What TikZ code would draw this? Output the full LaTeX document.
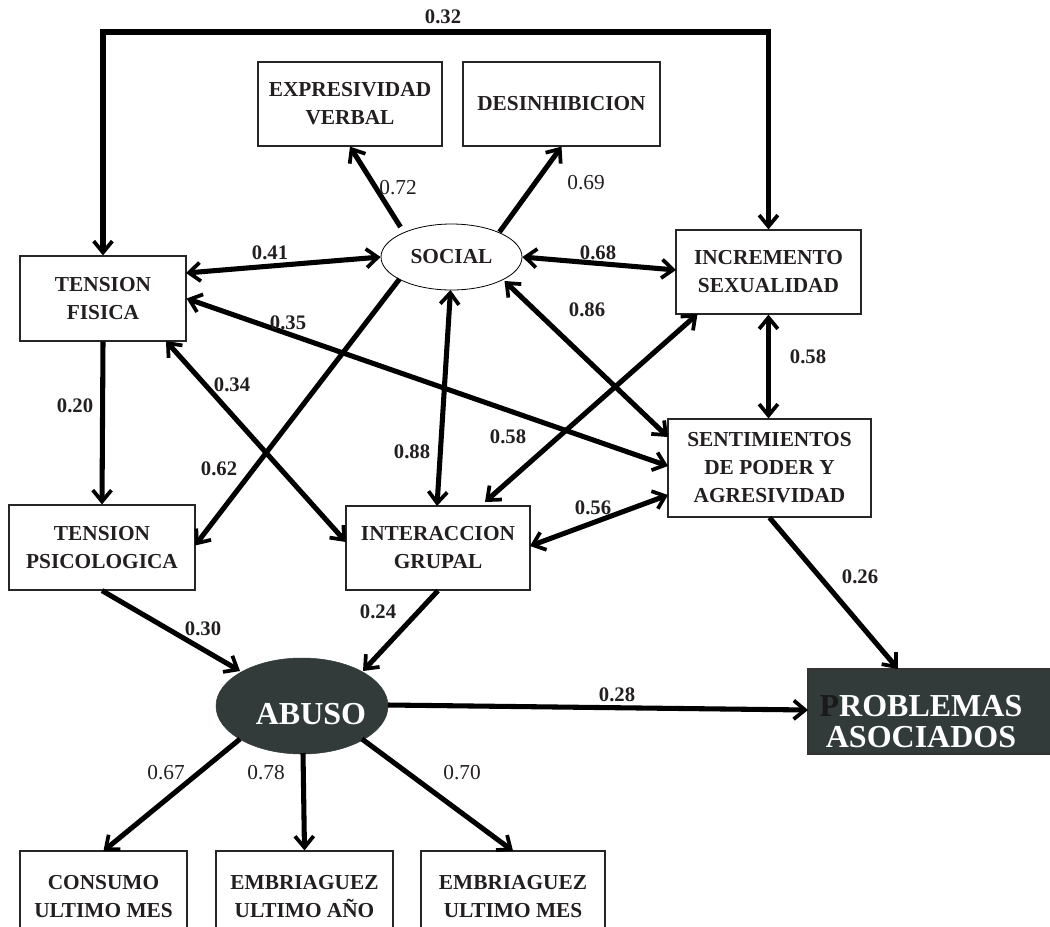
\documentclass[tikz,border=0pt]{standalone}
\usepackage{fontspec}
\setmainfont{Liberation Serif}
\usetikzlibrary{arrows.meta,calc,shapes.geometric}
\definecolor{txt}{HTML}{231F20}
\definecolor{darkfill}{RGB}{50,58,58}
\definecolor{pdark}{HTML}{1A1A1A}
\begin{document}
\begin{tikzpicture}[x=0.75pt,y=-0.75pt,
  boxn/.style={draw=black!85,line width=0.9pt,fill=white,align=center,text=txt,
    font=\bfseries\fontsize{16}{21}\selectfont,inner sep=0pt},
  barb/.tip={Straight Barb[length=8.5pt,width=14pt,line width=2.8pt]},
  oneway/.style={line width=3.8pt,-barb},
  twoway/.style={line width=3.8pt,barb-barb},
  lab/.style={text=txt,font=\bfseries\fontsize{15.5}{18}\selectfont,inner sep=0pt},
  labr/.style={text=txt,font=\fontsize{16}{18}\selectfont,inner sep=0pt}]
\path[use as bounding box] (0,0) rectangle (1050,926);
\clip (0,0) rectangle (1050,926);

% boxes
\node[boxn,minimum width=138pt,minimum height=63pt] (exv) at (350,104) {EXPRESIVIDAD\\VERBAL};
\node[boxn,minimum width=147.75pt,minimum height=63pt] (des) at (561.5,104) {DESINHIBICION};
\node[boxn,minimum width=124.5pt,minimum height=63.75pt] (tf) at (103,298.5) {TENSION\\FISICA};
\node[boxn,minimum width=138.75pt,minimum height=63pt] (inc) at (768.5,272) {INCREMENTO\\SEXUALIDAD};
\node[boxn,minimum width=152.25pt,minimum height=73.5pt] (sen) at (769.5,468) {SENTIMIENTOS\\DE PODER Y\\AGRESIVIDAD};
\node[boxn,minimum width=139.5pt,minimum height=63.75pt] (tp) at (102,547.5) {TENSION\\PSICOLOGICA};
\node[boxn,minimum width=138pt,minimum height=63pt] (ig) at (438,548) {INTERACCION\\GRUPAL};
\node[boxn,minimum width=125.25pt,minimum height=69pt] (con) at (103.5,897) {CONSUMO\\ULTIMO MES};
\node[boxn,minimum width=132.75pt,minimum height=69pt] (ea) at (304.5,897) {EMBRIAGUEZ\\ULTIMO AÑO};
\node[boxn,minimum width=138pt,minimum height=69pt] (em) at (513,897) {EMBRIAGUEZ\\ULTIMO MES};

% latent variables
\node[ellipse,draw=black,line width=0.6pt,fill=white,inner sep=0pt,
  minimum width=105.75pt,minimum height=49.5pt,text=txt,
  font=\bfseries\fontsize{16}{18}\selectfont] (soc) at (451.5,257) {SOCIAL};
\node[ellipse,draw=darkfill,fill=darkfill,inner sep=0pt,
  minimum width=129pt,minimum height=72pt,
  label={[text=white,font=\bfseries\fontsize{24}{26}\selectfont,xshift=6.75pt,yshift=-6pt]center:ABUSO}] (abuso) at (302,706) {};
\node[draw=black!80,line width=0.9pt,fill=darkfill,inner sep=0pt,
  minimum width=183pt,minimum height=63.75pt,
  label={[text=white,align=center,font=\bfseries\fontsize{24}{23.5}\selectfont,xshift=-6.75pt,yshift=-7.5pt]center:{\color{pdark}P}ROBLEMAS\\ASOCIADOS}] (prob) at (930,711.5) {};

% connectors
\coordinate (top) at (436,32);
\draw[twoway] (tf.north) |- (top) -| (inc.north);
\draw[oneway] ($(soc)+(-51,-30)$) -- (exv.south);
\draw[oneway] ($(soc)+(48,-25)$) -- (des.south);
\draw[twoway] ($(tf)+(83,-25.5)$) -- (soc.west);
\draw[twoway] (soc.east) -- ($(inc)+(-92.5,-2)$);
\draw[twoway] (tf.east) -- ($(sen)+(-101.5,-2)$);
\draw[twoway] ($(soc)+(53,24)$) -- ($(sen)+(-101.5,-31)$);
\draw[twoway] (inc.south) -- (inc.south |- sen.north);
\draw[twoway] ($(tf)+(63,42.5)$) -- ($(ig)+(-92,-6)$);
\draw[oneway] ($(soc)+(-52,22)$) -- ($(tp)+(93,-2)$);
\draw[twoway] ($(soc)+(-1,33)$) -- ($(ig)+(-1,-42)$);
\draw[twoway] ($(inc)+(-71,42)$) -- ($(ig)+(47,-46)$);
\draw[twoway] ($(ig)+(92,-2)$) -- ($(sen)+(-101.5,27)$);
\draw[oneway] (tf.south) -- (tp.north);
\draw[oneway] (tp.south) -- ($(abuso)+(-62,-35)$);
\draw[oneway] (ig.south) -- ($(abuso)+(61,-35)$);
\draw[oneway] (sen.south) -- ($(prob)+(-32,-42.5)$);
\draw[oneway] ($(abuso)+(86,-1)$) -- ($(prob)+(-122,-1.5)$);
\draw[oneway] ($(abuso)+(-62,33)$) -- ($(con)+(0,-46)$);
\draw[oneway] ($(abuso)+(1,47)$) -- (ea.north);
\draw[oneway] ($(abuso)+(60,33)$) -- ($(em)+(0,-46)$);

% coefficients
\node[lab] (l32) at (443,17) {0.32};
\node[labr] (l72) at (398,188) {0.72};
\node[labr] (l69) at (586,183) {0.69};
\node[lab] (l41) at (270,253) {0.41};
\node[lab] (l68) at (598,253) {0.68};
\node[lab] (l35) at (288,323) {0.35};
\node[lab] (l86) at (587,310) {0.86};
\node[lab] (l58a) at (808,357) {0.58};
\node[lab] (l20) at (75,406) {0.20};
\node[lab] (l34) at (232,385) {0.34};
\node[lab] (l62) at (219,469) {0.62};
\node[lab] (l88) at (412,452) {0.88};
\node[lab] (l58b) at (508,437) {0.58};
\node[lab] (l56) at (593,508) {0.56};
\node[lab] (l30) at (203,629) {0.30};
\node[lab] (l24) at (378,612) {0.24};
\node[lab] (l26) at (860,577) {0.26};
\node[lab] (l28) at (617,695) {0.28};
\node[labr] (l67) at (166,773) {0.67};
\node[labr] (l78) at (266,773) {0.78};
\node[labr] (l70) at (462,773) {0.70};
\end{tikzpicture}
\end{document}
